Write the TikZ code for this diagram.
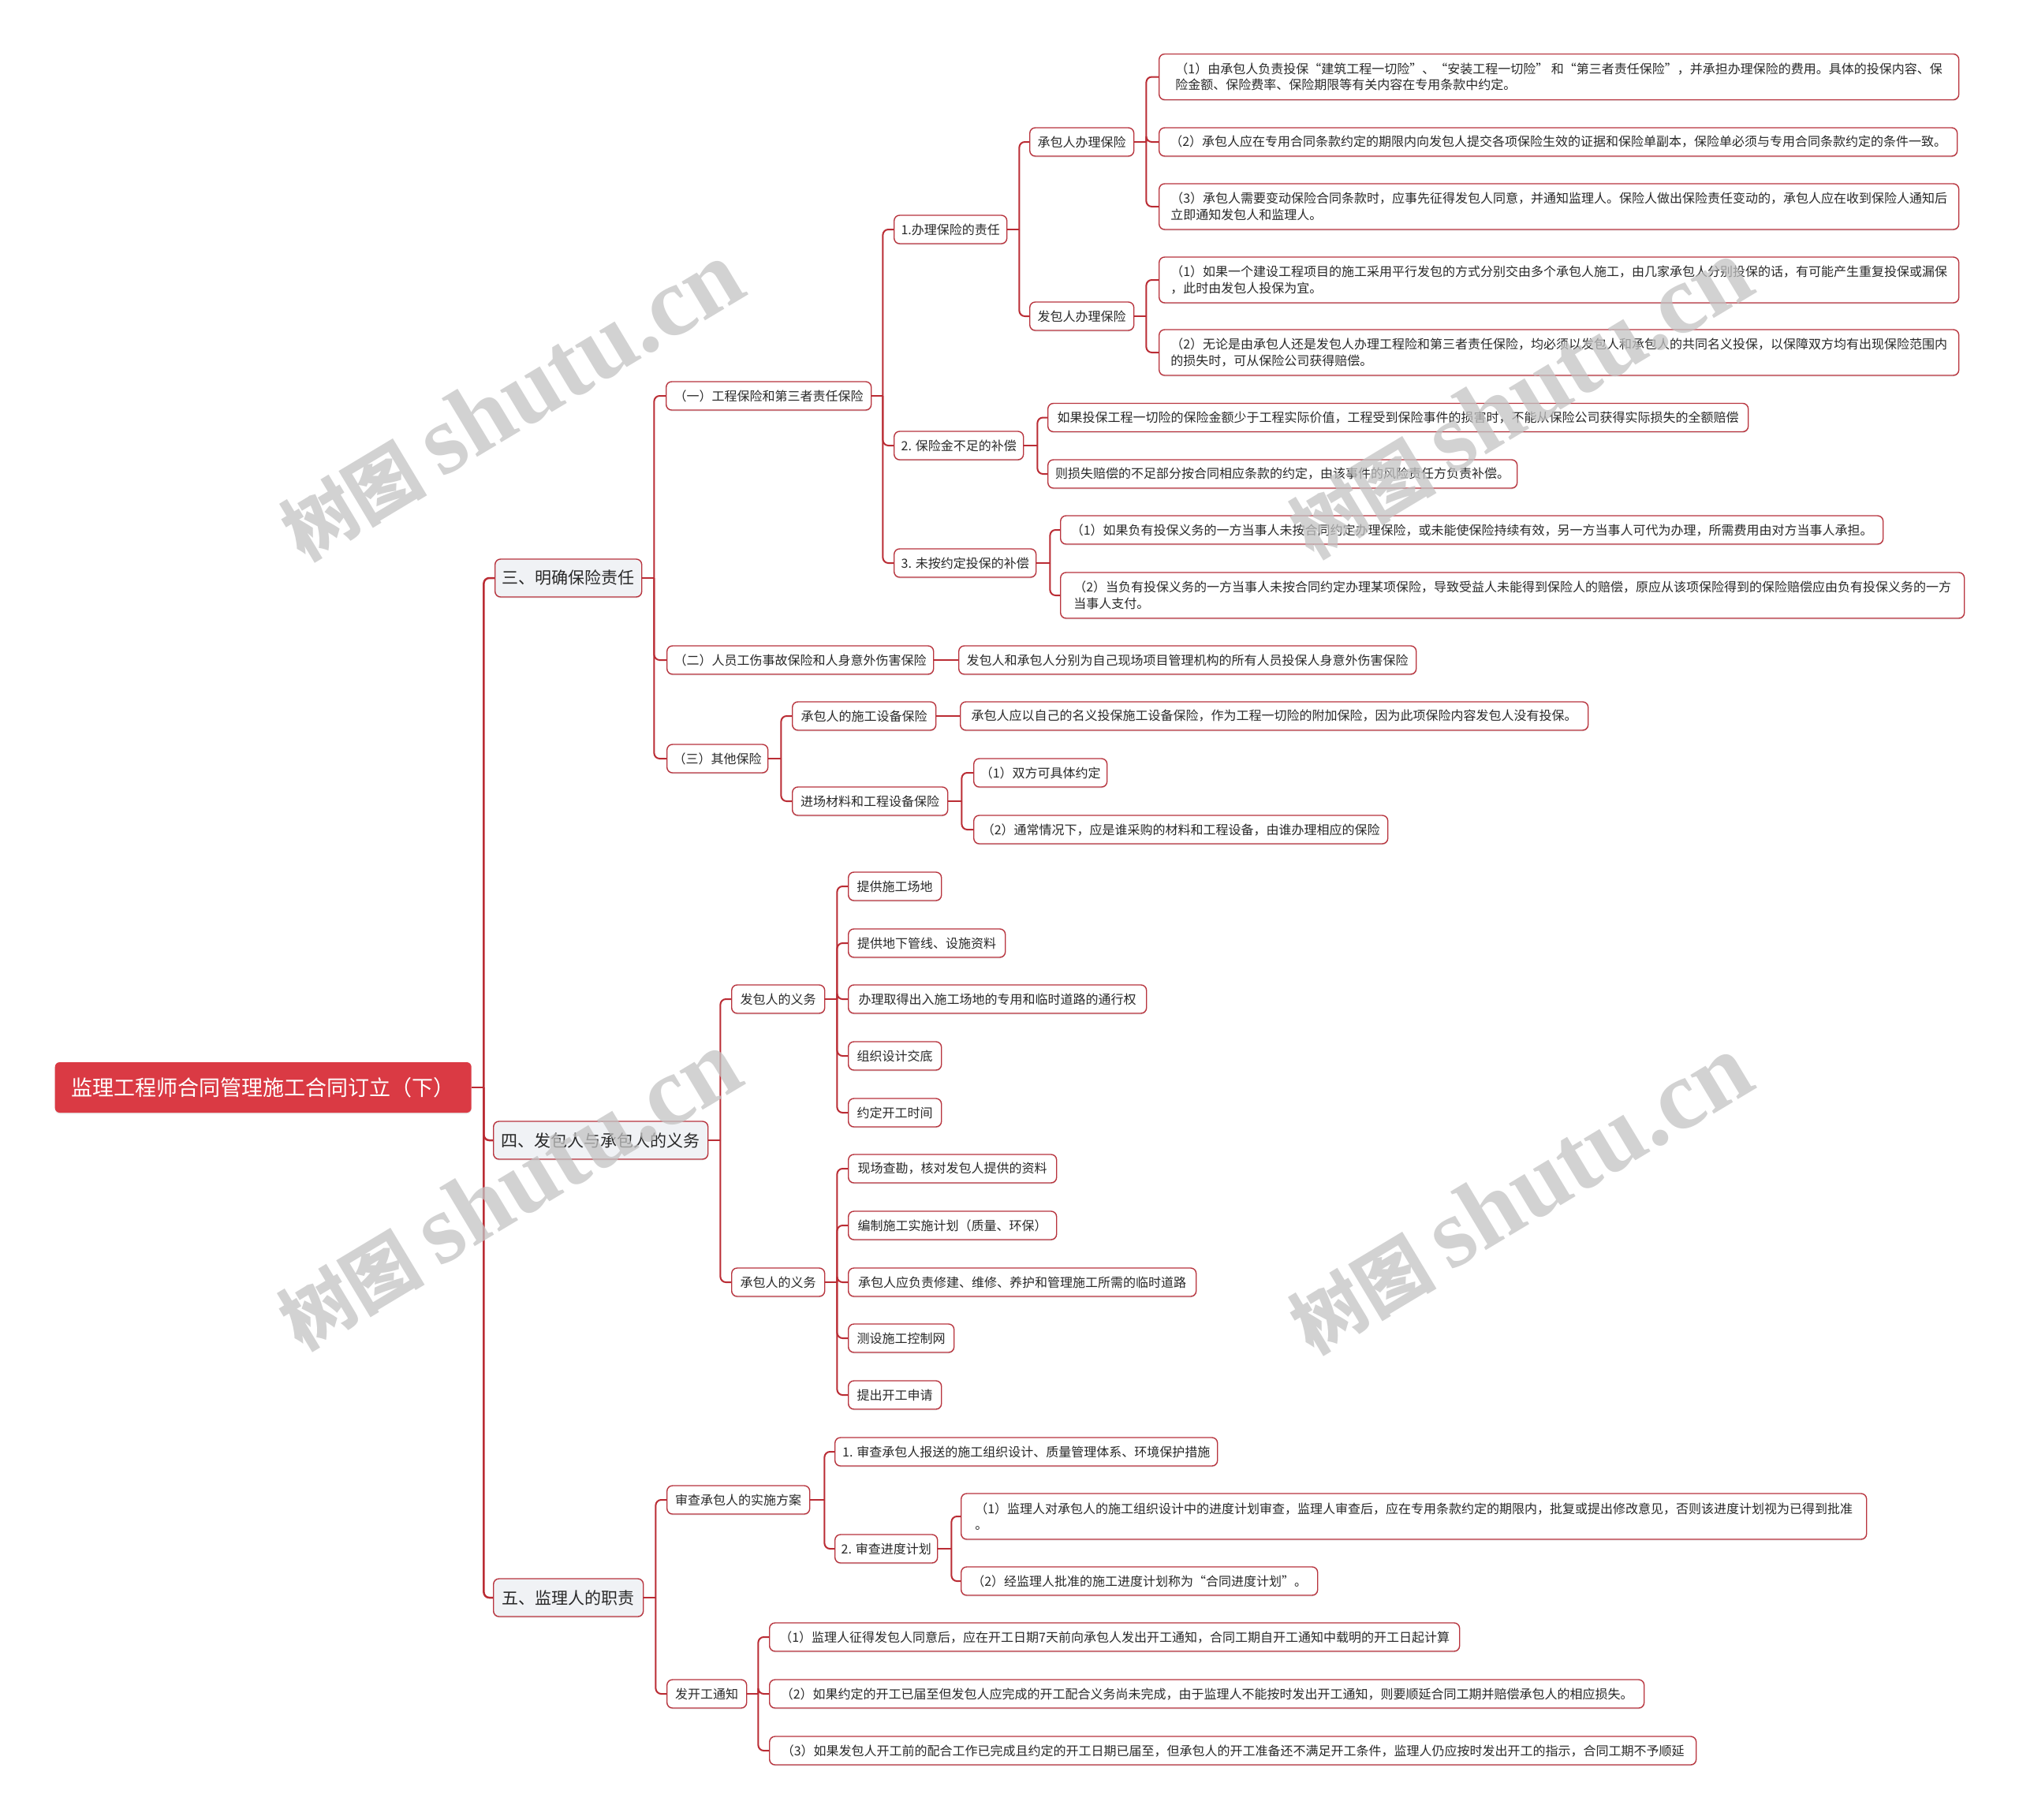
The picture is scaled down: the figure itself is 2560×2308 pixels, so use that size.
\documentclass[tikz,border=0pt]{standalone}
\usepackage{fontspec}
\newfontfamily\cjk{Noto Sans CJK SC}
\newfontfamily\wmserif{Liberation Serif}
\usetikzlibrary{calc,shadows}
\definecolor{linec}{RGB}{186,44,52}
\definecolor{boxc}{RGB}{184,52,62}
\definecolor{rootc}{RGB}{218,58,68}
\definecolor{lonefill}{RGB}{240,242,245}
\definecolor{txtc}{RGB}{40,40,40}
\definecolor{wmc}{RGB}{195,195,195}
\tikzset{
 conn/.style={draw=linec, line width=2pt, rounded corners=7pt},
 bx/.style={draw=boxc, line width=1.4pt, rounded corners=7pt, fill=white, text=txtc,
   font=\cjk\fontsize{16}{20.5}\selectfont, inner xsep=0pt, inner ysep=0pt,
   minimum height=36pt, anchor=west, align=left,
   drop shadow={shadow xshift=0pt, shadow yshift=-1.5pt, opacity=0.18}},
 bxtwo/.style={bx, minimum height=58pt},
 lone/.style={bx, fill=lonefill, font=\cjk\fontsize{21}{25}\selectfont, minimum height=48pt},
 rootn/.style={bx, fill=rootc, draw=none, text=white, font=\cjk\fontsize{27}{32}\selectfont,
   minimum height=64pt, rounded corners=6pt},
 wm/.style={text=wmc, opacity=0.75, rotate=31, inner sep=0pt},
}
\newcommand\mmnode[6]{\node[#1, minimum width={(#5)-(#3)}] (#2) at (#3,#4) {#6};}
\newcommand\mmkids[3]{%
  \path (#1.east) ++(#2,0) coordinate (#1j);
  \draw[conn] (#1.east) -- (#1j);
  \foreach \c in {#3} {\draw[conn] (#1j) |- (\c.west);}%
}
\begin{document}
\begin{tikzpicture}[x=1pt,y=-1pt]
\fill[white] (0,0) rectangle (2560,2308);
\useasboundingbox (0,0) rectangle (2560,2308);

% root and level 1
\mmnode{rootn}{root}{69}{1379}{597}{监理工程师合同管理施工合同订立（下）}
\mmnode{lone}{n3}{627}{733}{813}{三、明确保险责任}
\mmnode{lone}{n4}{625}{1446}{897}{四、发包人与承包人的义务}
\mmnode{lone}{n5}{625}{2026}{815}{五、监理人的职责}

% section 3
\mmnode{bx}{a1}{844}{502}{1104}{（一）工程保险和第三者责任保险}
\mmnode{bx}{a2}{845}{837}{1183}{（二）人员工伤事故保险和人身意外伤害保险}
\mmnode{bx}{a3}{845}{962}{973}{（三）其他保险}

\mmnode{bx}{b1}{1133}{291}{1276}{1.办理保险的责任}
\mmnode{bx}{b2}{1133}{565}{1297}{2. 保险金不足的补偿}
\mmnode{bx}{b3}{1133}{714}{1313}{3. 未按约定投保的补偿}

\mmnode{bx}{c1}{1305}{180}{1437}{承包人办理保险}
\mmnode{bx}{c2}{1305}{401}{1437}{发包人办理保险}

\mmnode{bxtwo}{d1}{1469}{97.5}{2483}{（1）由承包人负责投保“建筑工程一切险”、“安装工程一切险” 和“第三者责任保险”，并承担办理保险的费用。具体的投保内容、保\\险金额、保险费率、保险期限等有关内容在专用条款中约定。}
\mmnode{bx}{d2}{1469}{180}{2481}{（2）承包人应在专用合同条款约定的期限内向发包人提交各项保险生效的证据和保险单副本，保险单必须与专用合同条款约定的条件一致。}
\mmnode{bxtwo}{d3}{1469}{262}{2483}{（3）承包人需要变动保险合同条款时，应事先征得发包人同意，并通知监理人。保险人做出保险责任变动的，承包人应在收到保险人通知后\\立即通知发包人和监理人。}
\mmnode{bxtwo}{d4}{1469}{355}{2483}{（1）如果一个建设工程项目的施工采用平行发包的方式分别交由多个承包人施工，由几家承包人分别投保的话，有可能产生重复投保或漏保\\，此时由发包人投保为宜。}
\mmnode{bxtwo}{d5}{1469}{447}{2483}{（2）无论是由承包人还是发包人办理工程险和第三者责任保险，均必须以发包人和承包人的共同名义投保，以保障双方均有出现保险范围内\\的损失时，可从保险公司获得赔偿。}

\mmnode{bx}{e1}{1328}{529.5}{2216}{如果投保工程一切险的保险金额少于工程实际价值，工程受到保险事件的损害时，不能从保险公司获得实际损失的全额赔偿}
\mmnode{bx}{e2}{1328}{601}{1923}{则损失赔偿的不足部分按合同相应条款的约定，由该事件的风险责任方负责补偿。}
\mmnode{bx}{e3}{1344}{672}{2387}{（1）如果负有投保义务的一方当事人未按合同约定办理保险，或未能使保险持续有效，另一方当事人可代为办理，所需费用由对方当事人承担。}
\mmnode{bxtwo}{e4}{1344}{755}{2490}{（2）当负有投保义务的一方当事人未按合同约定办理某项保险，导致受益人未能得到保险人的赔偿，原应从该项保险得到的保险赔偿应由负有投保义务的一方\\当事人支付。}

\mmnode{bx}{f1}{1215}{837}{1795}{发包人和承包人分别为自己现场项目管理机构的所有人员投保人身意外伤害保险}

\mmnode{bx}{g1}{1004}{908}{1186}{承包人的施工设备保险}
\mmnode{bx}{g2}{1004}{1016}{1201}{进场材料和工程设备保险}
\mmnode{bx}{h1}{1217}{908}{2013}{承包人应以自己的名义投保施工设备保险，作为工程一切险的附加保险，因为此项保险内容发包人没有投保。}
\mmnode{bx}{h2}{1234}{980}{1403}{（1）双方可具体约定}
\mmnode{bx}{h3}{1234}{1052}{1759}{（2）通常情况下，应是谁采购的材料和工程设备，由谁办理相应的保险}

% section 4
\mmnode{bx}{i1}{927}{1267}{1045}{发包人的义务}
\mmnode{bx}{i2}{927}{1626}{1045}{承包人的义务}
\mmnode{bx}{j1}{1075}{1124}{1193}{提供施工场地}
\mmnode{bx}{j2}{1075}{1196}{1274}{提供地下管线、设施资料}
\mmnode{bx}{j3}{1075}{1267}{1453}{办理取得出入施工场地的专用和临时道路的通行权}
\mmnode{bx}{j4}{1075}{1339}{1193}{组织设计交底}
\mmnode{bx}{j5}{1075}{1411}{1193}{约定开工时间}
\mmnode{bx}{k1}{1075}{1482}{1339}{现场查勘，核对发包人提供的资料}
\mmnode{bx}{k2}{1075}{1554}{1339}{编制施工实施计划（质量、环保）}
\mmnode{bx}{k3}{1075}{1626}{1516}{承包人应负责修建、维修、养护和管理施工所需的临时道路}
\mmnode{bx}{k4}{1075}{1697}{1209}{测设施工控制网}
\mmnode{bx}{k5}{1075}{1769}{1193}{提出开工申请}

% section 5
\mmnode{bx}{l1}{845}{1902}{1026}{审查承包人的实施方案}
\mmnode{bx}{l2}{845}{2148}{946}{发开工通知}
\mmnode{bx}{m1}{1058}{1841}{1543}{1. 审查承包人报送的施工组织设计、质量管理体系、环境保护措施}
\mmnode{bx}{m2}{1058}{1964}{1188}{2. 审查进度计划}
\mmnode{bxtwo}{o1}{1218}{1923}{2366}{（1）监理人对承包人的施工组织设计中的进度计划审查，监理人审查后，应在专用条款约定的期限内，批复或提出修改意见，否则该进度计划视为已得到批准\\。}
\mmnode{bx}{o2}{1218}{2005}{1670}{（2）经监理人批准的施工进度计划称为“合同进度计划”。}
\mmnode{bx}{p1}{975}{2076}{1850}{（1）监理人征得发包人同意后，应在开工日期7天前向承包人发出开工通知，合同工期自开工通知中载明的开工日起计算}
\mmnode{bx}{p2}{975}{2148}{2084}{（2）如果约定的开工已届至但发包人应完成的开工配合义务尚未完成，由于监理人不能按时发出开工通知，则要顺延合同工期并赔偿承包人的相应损失。}
\mmnode{bx}{p3}{975}{2220}{2150}{（3）如果发包人开工前的配合工作已完成且约定的开工日期已届至，但承包人的开工准备还不满足开工条件，监理人仍应按时发出开工的指示，合同工期不予顺延}

% connectors
\path (root.east) ++(15,0) coordinate (rootj);
\draw[conn, line width=2.5pt] (root.east) -- (rootj);
\foreach \c in {n3,n4,n5} {\draw[conn, line width=2.5pt] (rootj) |- (\c.west);}
\mmkids{n3}{15}{a1,a2,a3}
\mmkids{a1}{14}{b1,b2,b3}
\mmkids{b1}{15}{c1,c2}
\mmkids{c1}{15}{d1,d2,d3}
\mmkids{c2}{15}{d4,d5}
\mmkids{b2}{17}{e1,e2}
\mmkids{b3}{17}{e3,e4}
\draw[conn] (a2.east) -- (f1.west);
\mmkids{a3}{16}{g1,g2}
\draw[conn] (g1.east) -- (h1.west);
\mmkids{g2}{17}{h2,h3}
\mmkids{n4}{15}{i1,i2}
\mmkids{i1}{15}{j1,j2,j3,j4,j5}
\mmkids{i2}{15}{k1,k2,k3,k4,k5}
\mmkids{n5}{15}{l1,l2}
\mmkids{l1}{18}{m1,m2}
\mmkids{m2}{17}{o1,o2}
\mmkids{l2}{14}{p1,p2,p3}

% watermarks
\node[wm] (wm1) at (648,509) {\cjk\bfseries\fontsize{92}{92}\selectfont 树图 \wmserif\bfseries\fontsize{125}{125}\selectfont shutu.cn};
\node[wm] (wm2) at (1927,506) {\cjk\bfseries\fontsize{92}{92}\selectfont 树图 \wmserif\bfseries\fontsize{125}{125}\selectfont shutu.cn};
\node[wm] (wm3) at (645,1510) {\cjk\bfseries\fontsize{92}{92}\selectfont 树图 \wmserif\bfseries\fontsize{125}{125}\selectfont shutu.cn};
\node[wm] (wm4) at (1927,1515) {\cjk\bfseries\fontsize{92}{92}\selectfont 树图 \wmserif\bfseries\fontsize{125}{125}\selectfont shutu.cn};
\end{tikzpicture}
\end{document}
